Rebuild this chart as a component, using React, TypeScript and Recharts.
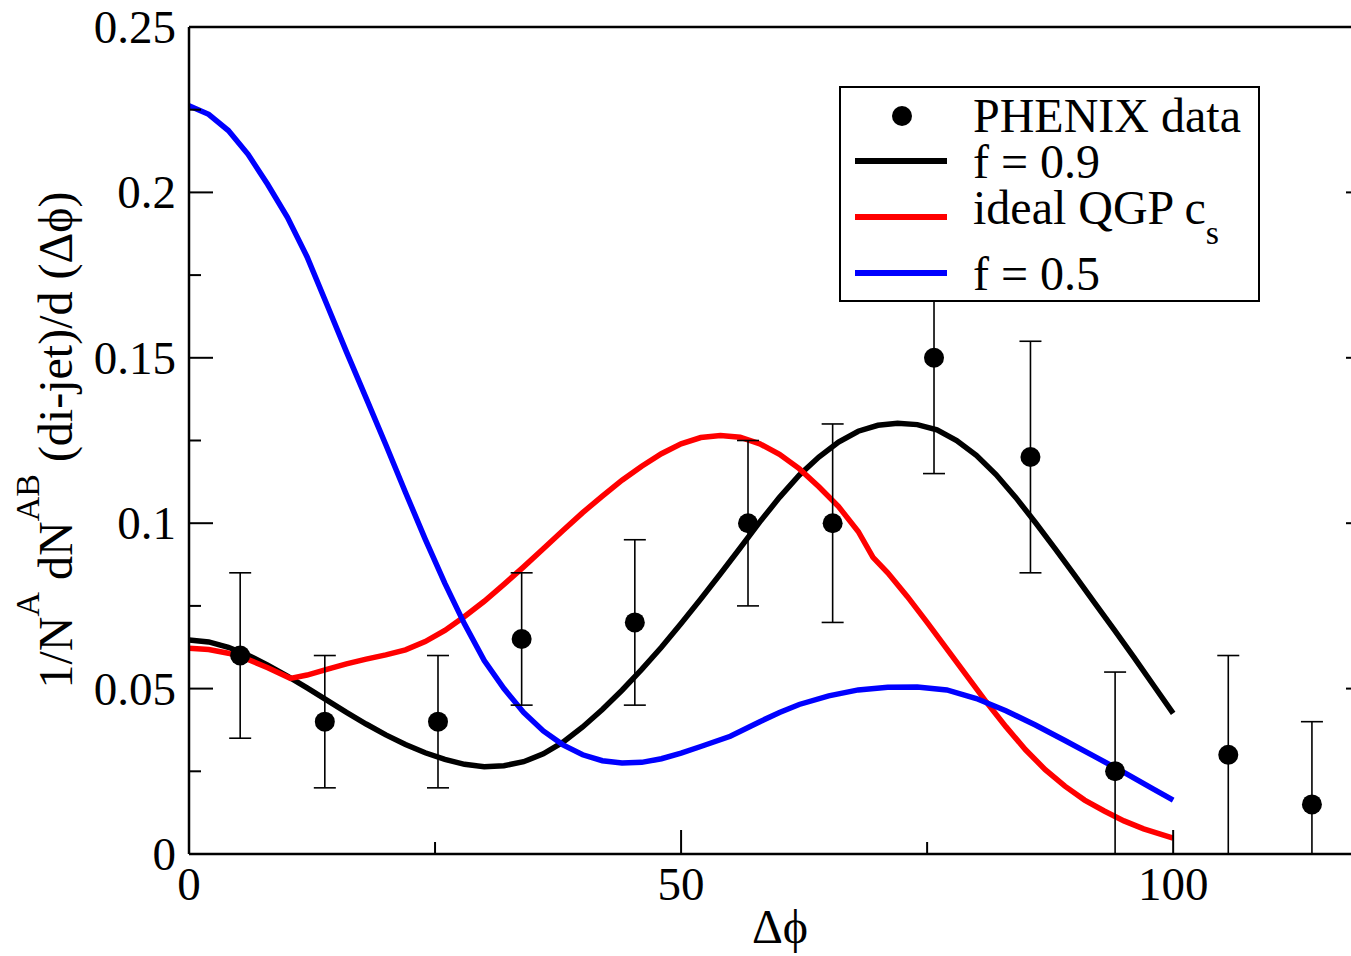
import React from "react";
import { ComposedChart, Line, Scatter, ErrorBar, XAxis, YAxis, Legend } from "recharts";

const FONT = "'Liberation Serif', 'Times New Roman', serif";

// PHENIX data points
const PT_X = [5.2, 13.8, 25.3, 33.8, 45.3, 56.8, 65.4, 75.7, 85.5, 94.1, 105.6, 114.1];
const PT_Y = [0.06, 0.04, 0.04, 0.065, 0.07, 0.1, 0.1, 0.15, 0.12, 0.025, 0.03, 0.015];
const PT_LOW = [0.035, 0.02, 0.02, 0.045, 0.045, 0.075, 0.07, 0.115, 0.085, 0, 0, 0];
const PT_HIGH = [0.085, 0.06, 0.06, 0.085, 0.095, 0.125, 0.13, 0.185, 0.155, 0.055, 0.06, 0.04];

// f = 0.9
const BLACK_X = [0, 2, 4, 6, 8, 10, 12, 14, 16, 18, 20, 22, 24, 26, 28, 30, 32, 34, 36, 38, 40, 42, 44, 46, 48, 50, 52, 54, 56, 58, 60, 62, 64, 66, 68, 70, 72, 74, 76, 78, 80, 82, 84, 86, 88, 90, 92, 94, 96, 98, 100];
const BLACK_Y = [0.0647, 0.0641, 0.0625, 0.0601, 0.0571, 0.0538, 0.0502, 0.0465, 0.0428, 0.0393, 0.036, 0.0331, 0.0306, 0.0286, 0.0271, 0.0264, 0.0267, 0.0279, 0.0303, 0.0338, 0.0384, 0.0437, 0.0495, 0.0558, 0.0625, 0.0697, 0.0771, 0.0847, 0.0925, 0.1004, 0.1078, 0.1145, 0.12, 0.1245, 0.1278, 0.1296, 0.1302, 0.1298, 0.1282, 0.125, 0.1205, 0.1147, 0.1078, 0.1002, 0.0923, 0.0842, 0.076, 0.0678, 0.0595, 0.051, 0.0425];

// ideal QGP c_s
const RED_X = [0, 2, 4, 6, 8, 10.3, 12, 14, 16, 18, 20, 22, 24, 26, 28, 30, 32, 34, 36, 38, 40, 42, 44, 46, 48, 50, 52, 54, 56, 58, 60, 62, 64, 66, 68, 69.5, 71, 73, 75, 77, 79, 81, 83, 85, 87, 89, 91, 93, 95, 97, 100];
const RED_Y = [0.0622, 0.0618, 0.0607, 0.0588, 0.0563, 0.0531, 0.0541, 0.0558, 0.0575, 0.0589, 0.0602, 0.0617, 0.0642, 0.0676, 0.0718, 0.0764, 0.0815, 0.0868, 0.0923, 0.0978, 0.1032, 0.1082, 0.113, 0.1172, 0.121, 0.124, 0.1259, 0.1265, 0.126, 0.124, 0.1208, 0.1165, 0.111, 0.105, 0.0975, 0.0897, 0.085, 0.0778, 0.07, 0.062, 0.054, 0.046, 0.0385, 0.0315, 0.0255, 0.0205, 0.0163, 0.013, 0.01, 0.0076, 0.0048];

// f = 0.5
const BLUE_X = [0, 2, 4, 6, 8, 10, 12, 14, 16, 18, 20, 22, 24, 26, 28, 30, 32, 34, 36, 38, 40, 42, 44, 46, 48, 50, 52, 55, 58, 60, 62, 65, 68, 71, 74, 77, 80, 83, 86, 89, 92, 95, 98, 100];
const BLUE_Y = [0.2262, 0.2236, 0.2187, 0.2115, 0.2024, 0.1925, 0.1805, 0.1662, 0.1518, 0.1378, 0.1237, 0.1093, 0.0952, 0.0818, 0.0695, 0.0585, 0.05, 0.0428, 0.0372, 0.033, 0.03, 0.0282, 0.0275, 0.0277, 0.0288, 0.0305, 0.0325, 0.0356, 0.04, 0.0428, 0.0452, 0.0478, 0.0496, 0.0504, 0.0505, 0.0496, 0.047, 0.0433, 0.039, 0.0343, 0.0295, 0.0247, 0.0196, 0.0163];

const X_TICKS = [0, 25, 50, 75, 100];
const X_LABELS = ["0", "", "50", "", "100"];
const Y_TICKS = [0, 0.025, 0.05, 0.075, 0.1, 0.125, 0.15, 0.175, 0.2, 0.225, 0.25];
const Y_LABELS = ["0", "", "0.05", "", "0.1", "", "0.15", "", "0.2", "", "0.25"];

const toXY = (xs: number[], ys: number[]) => xs.map((x, i) => ({ x, y: ys[i] }));

const points = PT_X.map((x, i) => ({
  x,
  y: PT_Y[i],
  err: [PT_Y[i] - PT_LOW[i], PT_HIGH[i] - PT_Y[i]],
}));
const black = toXY(BLACK_X, BLACK_Y);
const red = toXY(RED_X, RED_Y);
const blue = toXY(BLUE_X, BLUE_Y);

const MAJOR = 24;
const MINOR = 12;

const BottomTick = (p: any) => {
  const { x, y, index } = p;
  const label = X_LABELS[index];
  return (
    <g>
      <line x1={x} y1={y} x2={x} y2={y - (label ? MAJOR : MINOR)} stroke="#000" strokeWidth={2} />
      {label && (
        <text x={x} y={y + 46} textAnchor="middle" fontSize={47} fontFamily={FONT} fill="#000">
          {label}
        </text>
      )}
    </g>
  );
};

const TopTick = (p: any) => {
  const { x, y, index } = p;
  const len = X_LABELS[index] ? MAJOR : MINOR;
  return <line x1={x} y1={y} x2={x} y2={y + len} stroke="#000" strokeWidth={2} />;
};

const LeftTick = (p: any) => {
  const { x, y, index } = p;
  const label = Y_LABELS[index];
  return (
    <g>
      <line x1={x} y1={y} x2={x + (label ? MAJOR : MINOR)} y2={y} stroke="#000" strokeWidth={2} />
      {label && (
        <text x={x - 13} y={y + 16} textAnchor="end" fontSize={47} fontFamily={FONT} fill="#000">
          {label}
        </text>
      )}
    </g>
  );
};

const RightTick = (p: any) => {
  const { x, y, index } = p;
  const len = Y_LABELS[index] ? MAJOR : MINOR;
  return <line x1={x} y1={y} x2={x - len} y2={y} stroke="#000" strokeWidth={2} />;
};

const YLabel = () => (
  <text transform="translate(72,440) rotate(-90)" textAnchor="middle" fontSize={48} fontFamily={FONT} fill="#000">
    1/N
    <tspan dy={-33} fontSize={34}>A</tspan>
    <tspan dy={33}> dN</tspan>
    <tspan dy={-33} fontSize={34}>AB</tspan>
    <tspan dy={33}> (di-jet)/d (Δϕ)</tspan>
  </text>
);

const XLabel = () => (
  <text x={780} y={943} textAnchor="middle" fontSize={48} fontFamily={FONT} fill="#000">
    Δϕ
  </text>
);

const Dot = (p: any) => <circle cx={p.cx} cy={p.cy} r={10} fill="#000" />;

const LEGEND_LINES = [
  { color: "#000000", y: 75 },
  { color: "#ff0000", y: 131 },
  { color: "#0000ff", y: 187 },
];

const renderLegend = () => (
  <svg width={421} height={216} style={{ display: "block" }}>
    <rect x={1} y={1} width={419} height={214} fill="#fff" stroke="#000" strokeWidth={2} />
    <circle cx={63} cy={30} r={10} fill="#000" />
    {LEGEND_LINES.map((l) => (
      <line key={l.color} x1={16} x2={108} y1={l.y} y2={l.y} stroke={l.color} strokeWidth={6} />
    ))}
    <g fontFamily={FONT} fontSize={48} fill="#000">
      <text x={134} y={46}>PHENIX data</text>
      <text x={134} y={92}>f = 0.9</text>
      <text x={134} y={138}>
        ideal QGP c
        <tspan dy={20} fontSize={34}>s</tspan>
      </text>
      <text x={134} y={204}>f = 0.5</text>
    </g>
  </svg>
);

// plot area: left 189, top 27, right 1370, bottom 854
export default function App() {
  return (
    <div style={{ position: "absolute", left: 0, top: 0, width: 1351, height: 956, overflow: "hidden", background: "#fff" }}>
      <ComposedChart width={1400} height={956} margin={{ top: 17, left: 89, right: 20, bottom: 42 }}>
        <XAxis
          dataKey="x"
          type="number"
          domain={[0, 120]}
          allowDataOverflow
          ticks={X_TICKS}
          interval={0}
          height={60}
          tickSize={0}
          tickMargin={0}
          tickLine={false}
          tick={BottomTick}
          axisLine={{ stroke: "#000", strokeWidth: 2.5 }}
          label={<XLabel />}
        />
        <XAxis
          xAxisId="top"
          orientation="top"
          type="number"
          domain={[0, 120]}
          allowDataOverflow
          ticks={X_TICKS}
          interval={0}
          height={10}
          tickSize={0}
          tickMargin={0}
          tickLine={false}
          tick={TopTick}
          axisLine={{ stroke: "#000", strokeWidth: 2.5 }}
        />
        <YAxis
          dataKey="y"
          type="number"
          domain={[0, 0.25]}
          allowDataOverflow
          ticks={Y_TICKS}
          interval={0}
          width={100}
          tickSize={0}
          tickMargin={0}
          tickLine={false}
          tick={LeftTick}
          axisLine={{ stroke: "#000", strokeWidth: 2.5 }}
          label={<YLabel />}
        />
        <YAxis
          yAxisId="right"
          orientation="right"
          type="number"
          domain={[0, 0.25]}
          allowDataOverflow
          ticks={Y_TICKS}
          interval={0}
          width={10}
          tickSize={0}
          tickMargin={0}
          tickLine={false}
          tick={RightTick}
          axisLine={{ stroke: "#000", strokeWidth: 2.5 }}
        />
        <Line data={black} dataKey="y" name="f = 0.9" type="linear" stroke="#000000" strokeWidth={5.5} dot={false} isAnimationActive={false} />
        <Line data={red} dataKey="y" name="ideal QGP c_s" type="linear" stroke="#ff0000" strokeWidth={5.5} dot={false} isAnimationActive={false} />
        <Line data={blue} dataKey="y" name="f = 0.5" type="linear" stroke="#0000ff" strokeWidth={5.5} dot={false} isAnimationActive={false} />
        <Scatter data={points} dataKey="y" name="PHENIX data" fill="#000" shape={Dot} isAnimationActive={false}>
          <ErrorBar dataKey="err" direction="y" width={11} stroke="#000" strokeWidth={1.6} />
        </Scatter>
        <Legend
          content={renderLegend}
          layout="horizontal"
          verticalAlign="middle"
          align="center"
          wrapperStyle={{ left: 839, top: 86, width: 421, height: 216 }}
        />
      </ComposedChart>
    </div>
  );
}
